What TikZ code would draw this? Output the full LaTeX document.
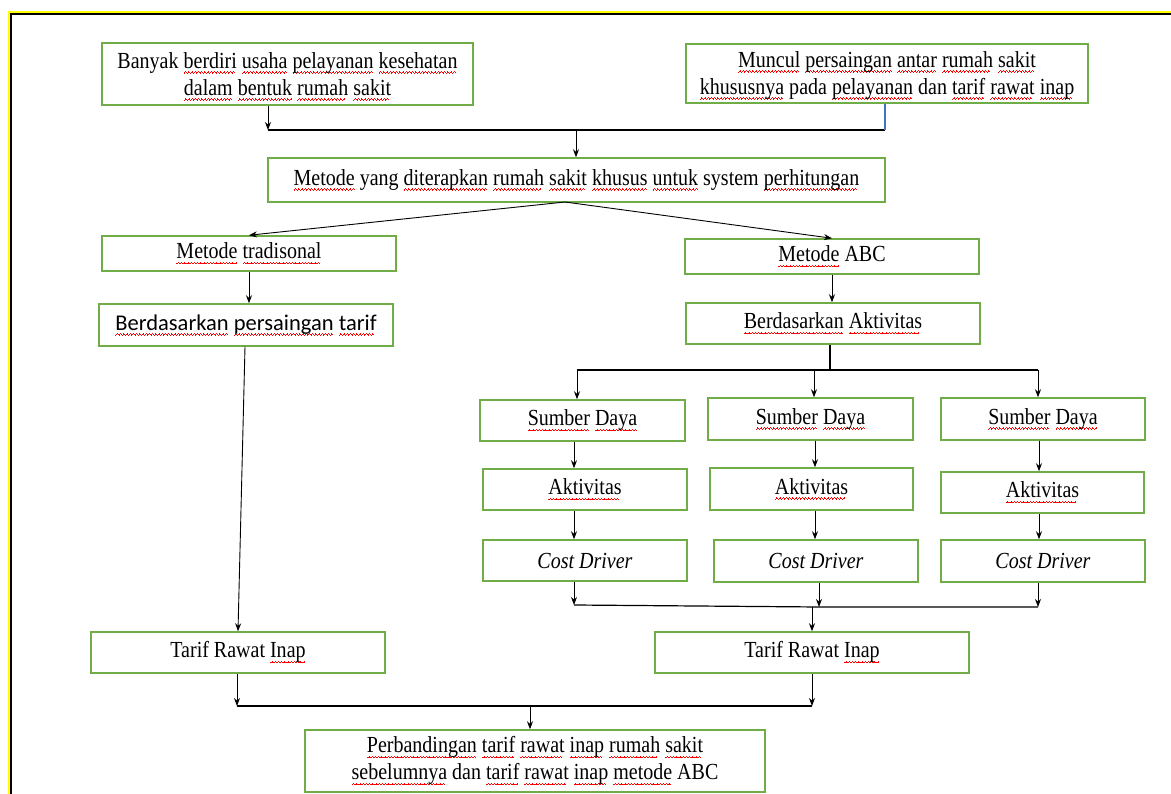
\documentclass[tikz,border=0pt]{standalone}
\usepackage{fontspec}
\setmainfont{Liberation Serif}[FakeStretch=0.87]
\newfontfamily\calfont{Carlito}
\usetikzlibrary{arrows.meta}
\newcommand\wvseg[1]{\raise#1\hbox{\vrule width0.8pt height0.9pt depth0pt}}
\newcommand\wavepiece{\hbox{\wvseg{0pt}\wvseg{0.8pt}\wvseg{1.6pt}\wvseg{0.8pt}}}
\newcommand\rwave[1]{\setbox0\hbox{#1}\rlap{\lower5.5pt\hbox to\wd0{\color{red}\leaders\wavepiece\hfill}}\box0\relax}
\definecolor{boxgreen}{RGB}{112,173,71}
\definecolor{frameyellow}{RGB}{255,255,0}
\definecolor{lineblue}{RGB}{68,114,196}
\begin{document}
\begin{tikzpicture}[x=1pt,y=-1pt,
  box/.style={draw=boxgreen, line width=1.5pt, inner sep=0pt, align=center,
              font=\fontsize{23}{27}\selectfont},
  arr/.style={-{Stealth[length=8pt,width=6pt]}, line width=0.9pt},
  ln/.style={line width=1.2pt}]
\useasboundingbox (0,0) rectangle (1171,794);
% frame
\draw[frameyellow, line width=2.4pt] (8.8,794) -- (8.8,12.2) -- (1171,12.2);
\draw[black, line width=1.8pt] (11,794) -- (11,14.2) -- (1171,14.2);
% boxes
\node[box, minimum width=371pt, minimum height=62pt] (A) at (287.5,74) {};
\node[align=center, inner sep=0pt, font=\fontsize{23}{27}\selectfont] (At) at (287.5,76.5)
  {Banyak \rwave{berdiri} \rwave{usaha} \rwave{pelayanan} \rwave{kesehatan}\\
   \rwave{dalam} \rwave{bentuk} \rwave{rumah} \rwave{sakit}};
\node[box, minimum width=402pt, minimum height=59pt] (B) at (887,73.5) {};
\node[align=center, inner sep=0pt, font=\fontsize{23}{27}\selectfont] (Bt) at (887,75.5)
  {\rwave{Muncul} \rwave{persaingan} \rwave{antar} \rwave{rumah} \rwave{sakit}\\
   \rwave{khususnya} pada \rwave{pelayanan} dan \rwave{tarif} \rwave{rawat} \rwave{inap}};
\node[box, minimum width=617pt, minimum height=44pt] (C) at (576.5,180)
  {\rwave{Metode} yang \rwave{diterapkan} \rwave{rumah} \rwave{sakit} \rwave{khusus} \rwave{untuk} system \rwave{perhitungan}};
\node[box, minimum width=294pt, minimum height=35pt] (D) at (249,253.5)
  {\rwave{Metode} \rwave{tradisonal}};
\node[box, minimum width=294pt, minimum height=35pt] (E) at (832,256.5)
  {\rwave{Metode} ABC};
\node[box, minimum width=294pt, minimum height=42pt, font=\calfont\fontsize{22.5}{27}\selectfont] (F) at (246,325)
  {\rwave{Berdasarkan} \rwave{persaingan} \rwave{tarif}};
\node[box, minimum width=294pt, minimum height=41pt] (G) at (833,323.5)
  {\rwave{Berdasarkan} \rwave{Aktivitas}};
\node[box, minimum width=205pt, minimum height=41pt] (S1) at (582.5,420.5) {\rwave{Sumber} \rwave{Daya}};
\node[box, minimum width=205pt, minimum height=42pt] (S2) at (810.5,419) {\rwave{Sumber} \rwave{Daya}};
\node[box, minimum width=204pt, minimum height=42pt] (S3) at (1043,419) {\rwave{Sumber} \rwave{Daya}};
\node[box, minimum width=204pt, minimum height=41pt] (A1) at (585,489.5) {\rwave{Aktivitas}};
\node[box, minimum width=203pt, minimum height=42pt] (A2) at (811.5,489) {\rwave{Aktivitas}};
\node[box, minimum width=203pt, minimum height=41pt] (A3) at (1042.5,492.5) {\rwave{Aktivitas}};
\node[box, minimum width=204pt, minimum height=41pt] (C1) at (585,560.5) {\textit{Cost Driver}};
\node[box, minimum width=204pt, minimum height=42pt] (C2) at (816,561) {\textit{Cost Driver}};
\node[box, minimum width=204pt, minimum height=42pt] (C3) at (1043,561) {\textit{Cost Driver}};
\node[box, minimum width=294pt, minimum height=41pt] (T1) at (238,652.5) {Tarif Rawat \rwave{Inap}};
\node[box, minimum width=314pt, minimum height=41pt] (T2) at (812,652.5) {Tarif Rawat \rwave{Inap}};
\node[box, minimum width=460pt, minimum height=62pt] (P) at (535,761)
  {\rwave{Perbandingan} \rwave{tarif} \rwave{rawat} \rwave{inap} \rwave{rumah} \rwave{sakit}\\
   \rwave{sebelumnya} dan \rwave{tarif} \rwave{rawat} \rwave{inap} \rwave{metode} ABC};
% top junction
\coordinate (jA) at (268,130);
\coordinate (jB) at (885,130);
\coordinate (jC) at (576,130);
\draw[arr] (A.south -| jA) -- (jA);
\draw[ln] (jA) -- (jB);
\draw[ln, lineblue] (B.south -| jB) -- (jB);
\draw[arr] (jC) -- (C.north -| jC);
% split
\coordinate (cs) at (565,202);
\draw[arr] (cs) -- (D.north);
\draw[arr] (cs) -- (E.north);
\draw[arr] (D.south) -- (D.south |- F.north);
\draw[arr] (E.south) -- (E.south |- G.north);
% ABC branches
\coordinate (g1) at (830,370);
\coordinate (h1) at (577,370);
\coordinate (h2) at (814,370);
\coordinate (h3) at (1038,370);
\draw[ln] (G.south -| g1) -- (g1);
\draw[ln] (h1) -- (h3);
\draw[arr] (h1) -- (S1.north -| h1);
\draw[arr] (h2) -- (S2.north -| h2);
\draw[arr] (h3) -- (S3.north -| h3);
\coordinate (x1) at (574,0);
\coordinate (x2) at (815,0);
\coordinate (x3) at (1039,0);
\draw[arr] (S1.south -| x1) -- (A1.north -| x1);
\draw[arr] (S2.south -| x2) -- (A2.north -| x2);
\draw[arr] (S3.south -| x3) -- (A3.north -| x3);
\draw[arr] (A1.south -| x1) -- (C1.north -| x1);
\draw[arr] (A2.south -| x2) -- (C2.north -| x2);
\draw[arr] (A3.south -| x3) -- (C3.north -| x3);
\coordinate (b1) at (574,605);
\coordinate (b2) at (819,607);
\coordinate (b3) at (1038,607);
\coordinate (bo) at (812,607);
\draw[arr] (C1.south -| b1) -- (b1);
\draw[arr] (C2.south -| b2) -- (b2);
\draw[arr] (C3.south -| b3) -- (b3);
\draw[ln] (b1) -- (b2) -- (b3);
\draw[arr] (bo) -- (T2.north);
% traditional branch
\draw[arr] ([xshift=-1pt]F.south) -- (T1.north);
% bottom junction
\coordinate (t1) at (237,706);
\coordinate (t2) at (812,706);
\coordinate (tp) at (530,706);
\draw[arr] (T1.south -| t1) -- (t1);
\draw[arr] (T2.south) -- (t2);
\draw[ln] (t1) -- (t2);
\draw[arr] (tp) -- (P.north -| tp);
\end{tikzpicture}
\end{document}
